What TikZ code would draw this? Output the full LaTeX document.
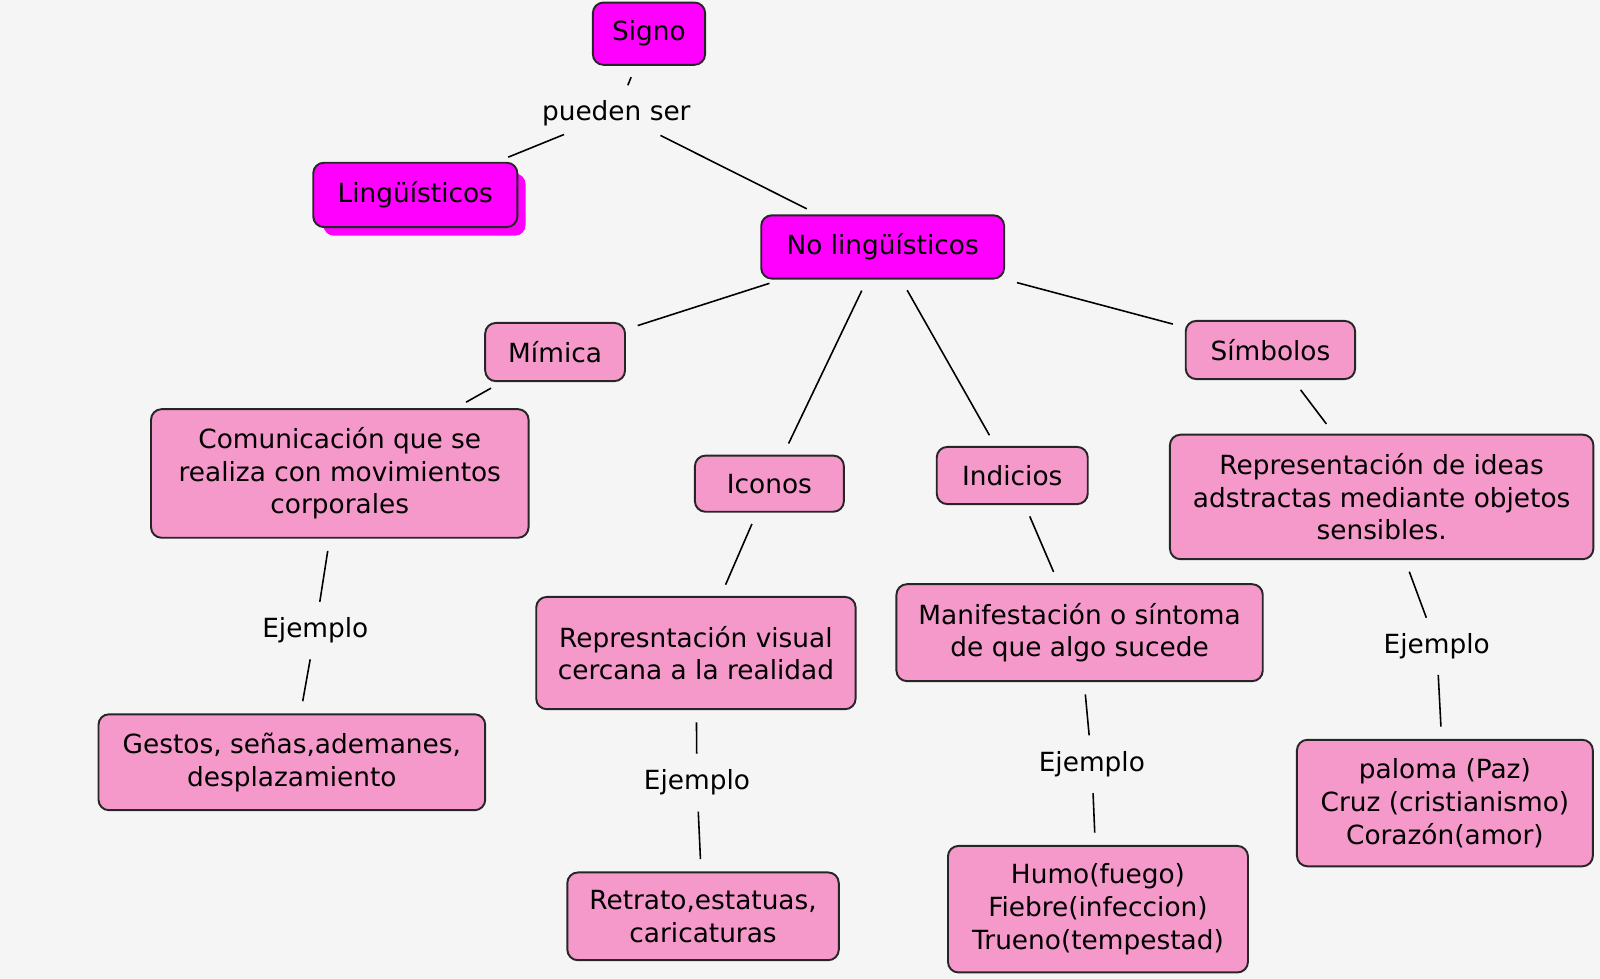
\documentclass[tikz,border=0pt]{standalone}
\usepackage{fontspec}
\setmainfont{DejaVu Sans}
\def\u{0.020408cm}
\begin{document}
\begin{tikzpicture}[x=\u,y=-\u,
 box/.style={draw=black!85,line width=1.1pt,rounded corners=6pt,fill=pk,align=center,font=\fontsize{15}{18.6}\selectfont,inner sep=0pt},
 mag/.style={box,fill=mg},
 lab/.style={font=\fontsize{15}{18.6}\selectfont,inner sep=2pt},
 ln/.style={line width=0.9pt,shorten <=7pt,shorten >=7pt}]
\definecolor{pk}{HTML}{F598CA}
\definecolor{mg}{HTML}{FF00FF}
\useasboundingbox (0,0) rectangle (1568,959.4);
\fill[white!96!black] (0,0) rectangle (1568,959.4);
\fill[mg,rounded corners=6pt] (317,170) rectangle (515,231);
\node[mag,minimum width=110*\u,minimum height=61*\u] (signo) at (636,33) {Signo};
\node[lab] (ps) at (604,111) {pueden ser};
\node[mag,minimum width=200*\u,minimum height=63*\u] (ling) at (407,191) {Lingüísticos};
\node[mag,minimum width=238*\u,minimum height=62*\u] (noling) at (865,242) {No lingüísticos};
\node[box,minimum width=137*\u,minimum height=57*\u] (mim) at (544,345) {Mímica};
\node[box,minimum width=370*\u,minimum height=126*\u] (com) at (333,464) {Comunicación que se\\realiza con movimientos\\corporales};
\node[box,minimum width=146*\u,minimum height=55*\u] (ico) at (754,474) {Iconos};
\node[box,minimum width=148*\u,minimum height=56*\u] (ind) at (992,466) {Indicios};
\node[box,minimum width=166*\u,minimum height=57*\u] (sim) at (1245,343) {Símbolos};
\node[box,minimum width=415*\u,minimum height=122*\u] (rid) at (1354,487) {Representación de ideas\\adstractas mediante objetos\\sensibles.};
\node[box,minimum width=313*\u,minimum height=110*\u] (rv) at (682,640) {Represntación visual\\cercana a la realidad};
\node[box,minimum width=359*\u,minimum height=95*\u] (man) at (1058,620) {Manifestación o síntoma\\de que algo sucede};
\node[box,minimum width=379*\u,minimum height=94*\u] (ges) at (286,747) {Gestos, señas,ademanes,\\desplazamiento};
\node[box,minimum width=266*\u,minimum height=86*\u] (ret) at (689,898) {Retrato,estatuas,\\caricaturas};
\node[box,minimum width=294*\u,minimum height=124*\u] (humo) at (1076,891) {Humo(fuego)\\Fiebre(infeccion)\\Trueno(tempestad)};
\node[box,minimum width=290*\u,minimum height=124*\u] (pal) at (1416,787) {paloma (Paz)\\Cruz (cristianismo)\\Corazón(amor)};
\node[lab] (e1) at (309,618) {Ejemplo};
\node[lab] (e2) at (683,767) {Ejemplo};
\node[lab] (e3) at (1070,749) {Ejemplo};
\node[lab] (e4) at (1408,633) {Ejemplo};
\draw[ln] (signo) -- (ps);
\draw[ln] (ps) -- (ling);
\draw[ln] (ps) -- (noling);
\draw[ln] (noling) -- (mim);
\draw[ln] (noling) -- (ico);
\draw[ln] (noling) -- (ind);
\draw[ln] (noling) -- (sim);
\draw[ln] (mim) -- (com);
\draw[ln] (ico) -- (rv);
\draw[ln] (ind) -- (man);
\draw[ln] (sim) -- (rid);
\draw[ln] (com) -- (e1); \draw[ln] (e1) -- (ges);
\draw[ln] (rv) -- (e2); \draw[ln] (e2) -- (ret);
\draw[ln] (man) -- (e3); \draw[ln] (e3) -- (humo);
\draw[ln] (rid) -- (e4); \draw[ln] (e4) -- (pal);
\end{tikzpicture}
\end{document}
